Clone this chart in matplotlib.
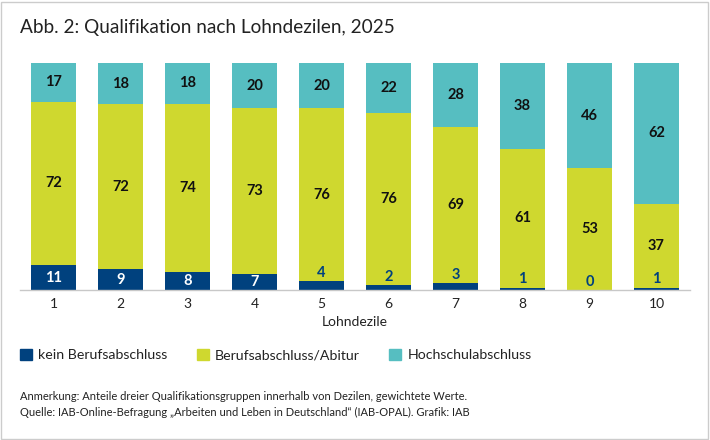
import matplotlib
matplotlib.use("Agg")
import matplotlib.pyplot as plt
import matplotlib.patches as mpatches
import numpy as np

deciles = ["1", "2", "3", "4", "5", "6", "7", "8", "9", "10"]
kein = [11, 9, 8, 7, 4, 2, 3, 1, 0, 1]
beruf = [72, 72, 74, 73, 76, 76, 69, 61, 53, 37]
hoch = [17, 18, 18, 20, 20, 22, 28, 38, 46, 62]
series_names = ["kein Berufsabschluss", "Berufsabschluss/Abitur", "Hochschulabschluss"]
colors = ["#00417e", "#cfd82f", "#56bec1"]

title = "Abb. 2: Qualifikation nach Lohndezilen, 2025"
xlabel = "Lohndezile"
note1 = "Anmerkung: Anteile dreier Qualifikationsgruppen innerhalb von Dezilen, gewichtete Werte."
note2 = "Quelle: IAB-Online-Befragung \u201eArbeiten und Leben in Deutschland\u201c (IAB-OPAL). Grafik: IAB"

plt.rcParams['font.family'] = ['Lato', 'DejaVu Sans']

fig = plt.figure(figsize=(7.1, 4.4), dpi=100)
W, H = 710, 440
ax = fig.add_axes([20 / W, 1 - 290 / H, 670 / W, (290 - 63) / H])

x = np.arange(1, len(deciles) + 1)
data = np.array([kein, beruf, hoch], dtype=float)
totals = data.sum(axis=0)
shares = data / totals * 100

bottom = np.zeros(len(x))
width = 0.67
for i, (vals, name, c) in enumerate(zip(shares, series_names, colors)):
    ax.bar(x, vals, width, bottom=bottom, color=c, label=name, edgecolor='none')
    raw = data[i]
    for xi, b, v, r in zip(x, bottom, vals, raw):
        lab = f"{int(r)}"
        if i == 0:
            if r >= 5:
                ax.text(xi, b + v / 2, lab, ha='center', va='center', color='white',
                        fontsize=10.5, fontweight='bold')
            else:
                ax.text(xi, b + v + 0.6, lab, ha='center', va='bottom', color='#00417e',
                        fontsize=10.5, fontweight='bold')
        else:
            ax.text(xi, b + v / 2, lab, ha='center', va='center', color='#111111',
                    fontsize=10.5, fontweight='bold')
    bottom += vals

ax.set_xlim(0.5, 10.5)
ax.set_ylim(0, 100)
ax.set_yticks([])
ax.set_xticks(x)
ax.set_xticklabels(deciles, fontsize=10, color='#222222')
ax.tick_params(axis='x', length=0, pad=6)
for s in ['top', 'right', 'left']:
    ax.spines[s].set_visible(False)
ax.spines['bottom'].set_color('#c8c8c8')
ax.spines['bottom'].set_linewidth(1)
ax.set_xlabel(xlabel, fontsize=10, color='#222222', labelpad=4)

fig.text(20 / W, 1 - 28 / H, title, fontsize=13.7, color='#222222', va='center', ha='left')

handles = [mpatches.Patch(color=c) for c in colors]
fig.legend(handles, series_names, loc='center left', bbox_to_anchor=(20 / W, 1 - 355 / H),
           ncol=3, frameon=False, fontsize=10.2, handlelength=0.85, handleheight=0.85,
           handletextpad=0.45, columnspacing=2.05, borderaxespad=0, borderpad=0,
           labelcolor='#222222')

fig.text(20 / W, 1 - 396 / H, note1, fontsize=8.05, color='#222222', va='center', ha='left')
fig.text(20 / W, 1 - 412 / H, note2, fontsize=8.05, color='#222222', va='center', ha='left')

fig.patches.append(mpatches.Rectangle((1 / W, 1 / H), 707 / W, 437 / H, transform=fig.transFigure,
                                      fill=False, edgecolor='#cccccc', linewidth=1))

fig.savefig("out.png", dpi=100)
